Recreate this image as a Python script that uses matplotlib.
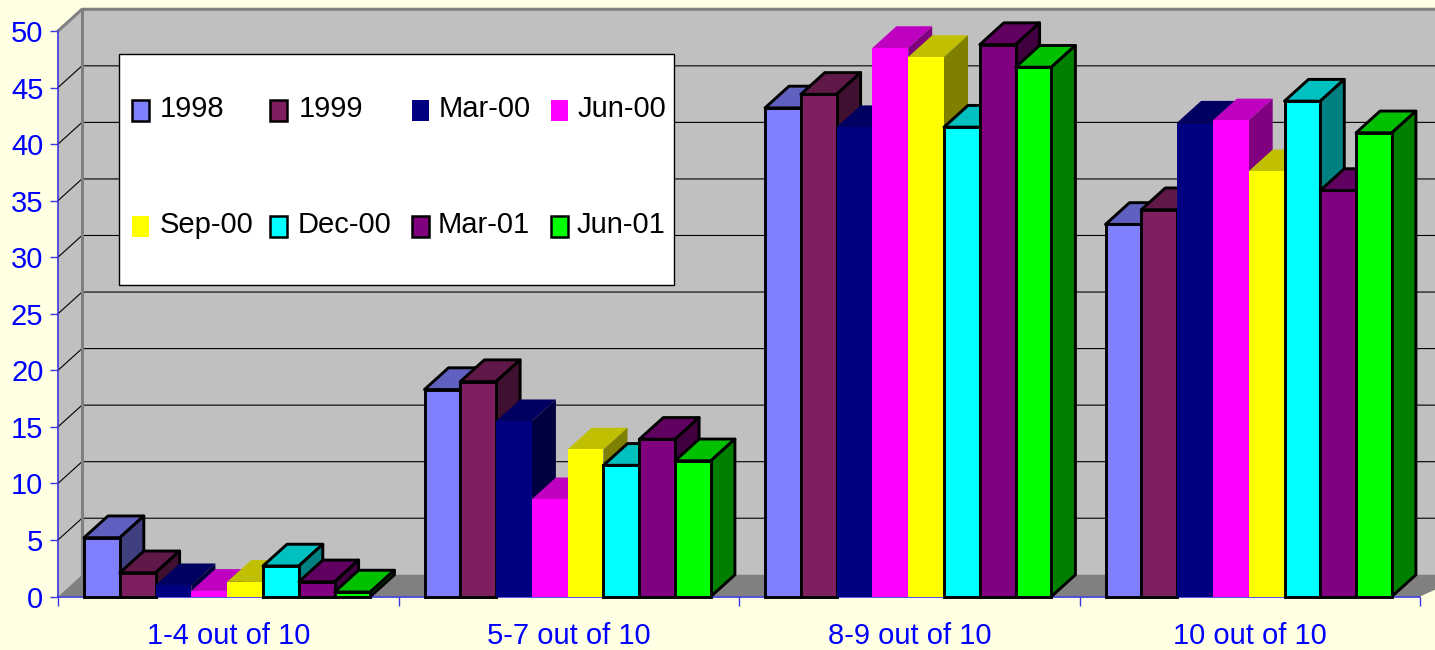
import matplotlib
matplotlib.use('Agg')
import matplotlib.pyplot as plt
from matplotlib.patches import Rectangle
from matplotlib.transforms import Affine2D
import numpy as np

W = 1435
H = 650

categories = ['1-4 out of 10', '5-7 out of 10', '8-9 out of 10', '10 out of 10']
series = ['1998', '1999', 'Mar-00', 'Jun-00', 'Sep-00', 'Dec-00', 'Mar-01', 'Jun-01']

v_1998 = [5.2, 18.3, 43.2, 32.9]
v_1999 = [2.1, 19.0, 44.4, 34.2]
v_mar00 = [1.0, 15.5, 41.5, 41.9]
v_jun00 = [0.5, 8.6, 48.5, 42.1]
v_sep00 = [1.3, 13.0, 47.7, 37.6]
v_dec00 = [2.7, 11.6, 41.5, 43.8]
v_mar01 = [1.3, 13.9, 48.8, 35.9]
v_jun01 = [0.4, 12.0, 46.8, 41.0]
values = [v_1998, v_1999, v_mar00, v_jun00, v_sep00, v_dec00, v_mar01, v_jun01]

front = ['#8080FF', '#7F1F5F', '#000080', '#FF00FF', '#FFFF00', '#00FFFF', '#800080', '#00FF00']
top = ['#6060C0', '#601848', '#000060', '#C000C0', '#C0C000', '#00C0C0', '#600060', '#00C000']
side = ['#404080', '#401030', '#000040', '#800080', '#808000', '#008080', '#400040', '#008000']
outlined = [True, True, False, False, False, True, True, True]

BG = '#FFFFE3'
BLUE = '#0000FF'
AXIS = '#3838E0'
FONT = ['Liberation Sans', 'DejaVu Sans']
FS = 21

plt.rcParams['font.family'] = FONT
plt.rcParams['font.size'] = FS

fig = plt.figure(figsize=(W / 100, H / 100), dpi=100, facecolor=BG)
ax = fig.add_axes([58 / W, 1 - 596.5 / H, (1420 - 58) / W, (596.5 - 31) / H])
ax.set_xlim(0, 4)
ax.set_ylim(0, 50)
ax.patch.set_visible(False)

# depth of the chart box, in data units
dx = 24 / 340.5
dy = 1.92
right = 4 + 2 * dx

# walls and floor
ax.fill([dx, right, right, dx], [dy, dy, 50 + dy, 50 + dy], color='#C0C0C0', lw=0, clip_on=False, zorder=1)
ax.fill([0, dx, dx, 0], [0, dy, 50 + dy, 50], color='#C0C0C0', lw=0, clip_on=False, zorder=1)
ax.fill([0, dx, right, 4], [0, dy, dy, 0], color='#808080', lw=0, clip_on=False, zorder=1)

# gridlines go round the left wall and along the back
for v in np.arange(5, 50, 5):
    ax.plot([0, dx, right], [v, v + dy, v + dy], color='black', lw=0.8, clip_on=False, zorder=2)
ax.plot([0, dx, right], [50, 50 + dy, 50 + dy], color='#808080', lw=2.2, clip_on=False, zorder=3)
ax.plot([dx, dx], [dy, 50 + dy], color='#808080', lw=2.2, clip_on=False, zorder=3)

# bars, left to right so each one covers the side of the previous one
bar_w = 35.8 / 340.5
group_left = 26.0 / 340.5
z = 4
for g in range(len(categories)):
    for s in range(len(series)):
        x0 = g + group_left + s * bar_w
        x1 = x0 + bar_w
        v = values[s][g]
        ec = 'black' if outlined[s] else None
        lw = 2.1 if outlined[s] else 0
        ax.fill([x0, x1, x1 + dx, x0 + dx], [v, v, v + dy, v + dy], facecolor=top[s],
                edgecolor=ec, lw=lw, clip_on=False, zorder=z, joinstyle='round')
        ax.fill([x1, x1 + dx, x1 + dx, x1], [0, dy, v + dy, v], facecolor=side[s],
                edgecolor=ec, lw=lw, clip_on=False, zorder=z, joinstyle='round')
        ax.bar(x0, v, bar_w, align='edge', color=front[s], edgecolor=ec, lw=lw,
               clip_on=False, zorder=z + 0.5, joinstyle='miter')
        z += 1

# axes
for name in ['top', 'right']:
    ax.spines[name].set_visible(False)
for name in ['left', 'bottom']:
    ax.spines[name].set_color(AXIS)
    ax.spines[name].set_linewidth(1.2)
    ax.spines[name].set_zorder(3)
ax.set_yticks(np.arange(0, 55, 5))
ax.set_xticks(np.arange(0, 5))
ax.set_xticklabels([])
ax.set_xticks(np.arange(0.5, 4.5), categories, minor=True)
ax.tick_params(axis='y', direction='out', length=6, width=1.0, color=AXIS, labelcolor=BLUE, labelsize=FS, pad=4.5)
ax.tick_params(axis='x', which='major', direction='out', length=6.5, width=1.0, color=AXIS)
ax.tick_params(axis='x', which='minor', length=0, labelcolor=BLUE, labelsize=FS, pad=18.5)

# legend box, laid out in pixels from the top left corner
px = Affine2D().scale(1 / W, -1 / H).translate(0, 1) + fig.transFigure
fig.add_artist(Rectangle((119, 54), 555, 231, transform=px, facecolor='white', edgecolor='black', lw=1.0, zorder=10))
swatch_x = [132, 270, 412, 551, 132, 270, 412, 551]
text_x = [160, 299, 439, 578, 160, 298, 438, 577]
row_y = [110, 110, 110, 110, 226, 226, 226, 226]
for s in range(len(series)):
    fig.add_artist(Rectangle((swatch_x[s], row_y[s] - 10), 17, 21, transform=px, facecolor=front[s],
                             edgecolor='black' if outlined[s] else 'none', lw=1.8 if outlined[s] else 0,
                             zorder=11))
    fig.text(text_x[s], row_y[s] - 1, series[s], transform=px, color='black', fontsize=FS,
             ha='left', va='center', zorder=11)

fig.savefig('out.png', dpi=100, facecolor=BG)
